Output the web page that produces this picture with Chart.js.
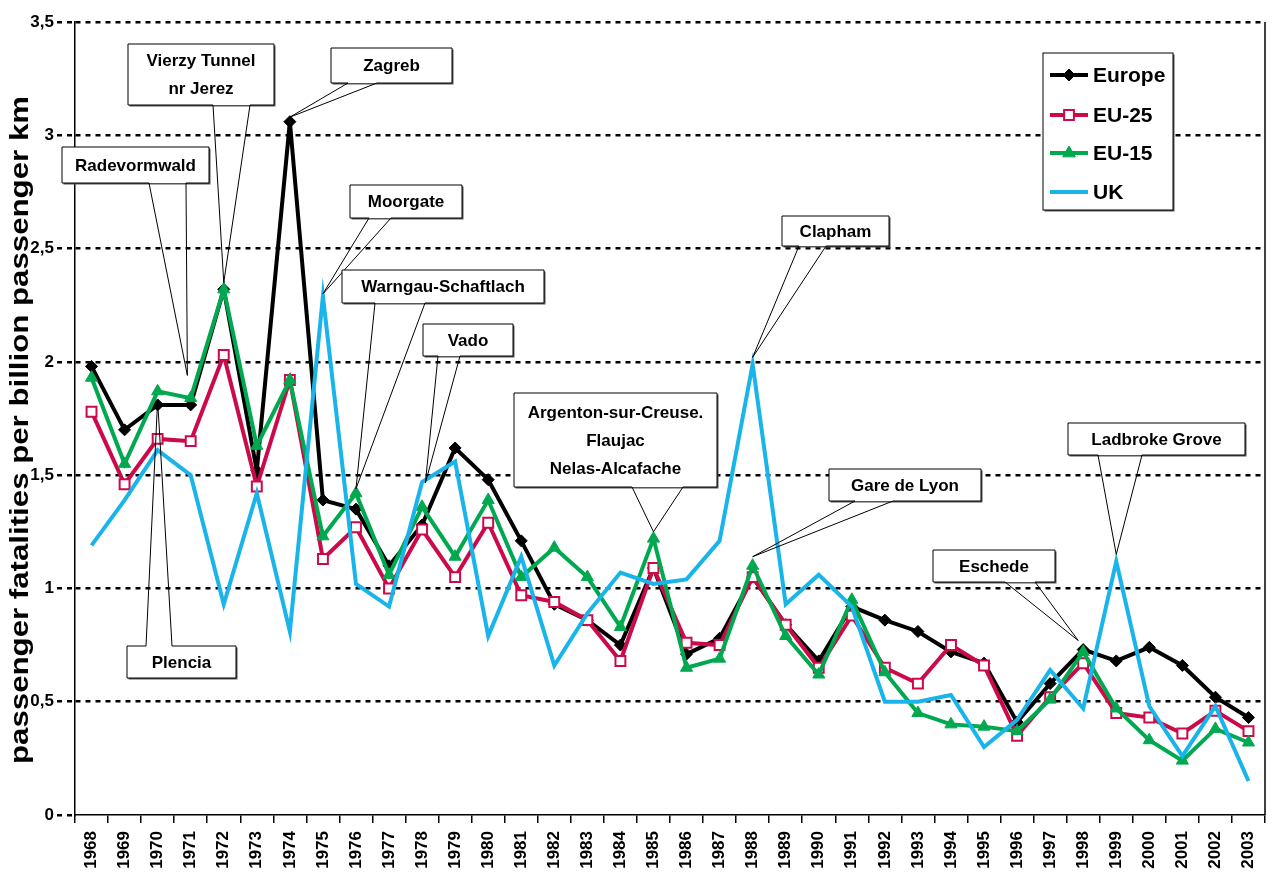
<!DOCTYPE html>
<html>
<head>
<meta charset="utf-8">
<script src="https://cdn.jsdelivr.net/npm/chart.js@4.4.0/dist/chart.umd.min.js"></script>
<style>
    html, body { margin: 0; padding: 0; background: #fff; }
</style>
</head>
<body>
<canvas id="chart" width="1274" height="882"></canvas>
<script>
// Tick labels (years)
const years = ["1968", "1969", "1970", "1971", "1972", "1973", "1974", "1975", "1976", "1977",
    "1978", "1979", "1980", "1981", "1982", "1983", "1984", "1985", "1986", "1987",
    "1988", "1989", "1990", "1991", "1992", "1993", "1994", "1995", "1996", "1997",
    "1998", "1999", "2000", "2001", "2002", "2003"];

// Series values (passenger fatalities per billion passenger km)
const europe = [1.98, 1.70, 1.81, 1.81, 2.32, 1.52, 3.06, 1.39, 1.35, 1.10,
    1.28, 1.62, 1.48, 1.21, 0.93, 0.86, 0.75, 1.09, 0.71, 0.78,
    1.05, 0.84, 0.68, 0.92, 0.86, 0.81, 0.72, 0.67, 0.41, 0.58,
    0.73, 0.68, 0.74, 0.66, 0.52, 0.43];
const eu25 = [1.78, 1.46, 1.66, 1.65, 2.03, 1.45, 1.92, 1.13, 1.27, 1.00,
    1.26, 1.05, 1.29, 0.97, 0.94, 0.86, 0.68, 1.09, 0.76, 0.75,
    1.05, 0.84, 0.65, 0.88, 0.65, 0.58, 0.75, 0.66, 0.35, 0.52,
    0.67, 0.45, 0.43, 0.36, 0.46, 0.37];
const eu15 = [1.93, 1.55, 1.87, 1.84, 2.32, 1.63, 1.92, 1.23, 1.42, 1.06,
    1.36, 1.14, 1.39, 1.05, 1.18, 1.05, 0.83, 1.22, 0.65, 0.69,
    1.10, 0.79, 0.62, 0.95, 0.63, 0.45, 0.40, 0.39, 0.37, 0.51,
    0.72, 0.47, 0.33, 0.24, 0.38, 0.32];
const uk = [1.19, 1.39, 1.61, 1.50, 0.93, 1.42, 0.81, 2.29, 1.02, 0.92,
    1.47, 1.56, 0.79, 1.14, 0.66, 0.89, 1.07, 1.02, 1.04, 1.21,
    1.99, 0.93, 1.06, 0.92, 0.50, 0.50, 0.53, 0.30, 0.42, 0.64,
    0.47, 1.12, 0.48, 0.26, 0.48, 0.15];

const seriesNames = ["Europe", "EU-25", "EU-15", "UK"];
const seriesColors = ["#000000", "#cc0a4a", "#00a84f", "#18b4ea"];

// Accident callouts: text, box (pixels), wedge base (pixels), tip (year index, value)
const callouts = [
    { text: ["Vierzy Tunnel", "nr Jerez"], box: [128, 44, 274, 105], base: [213, 250], tip: [4, 2.35] },
    { text: ["Radevormwald"], box: [62, 147, 209, 183], base: [149, 186], tip: [2.9, 1.94] },
    { text: ["Zagreb"], box: [331, 48, 452, 83], base: [348, 377], tip: [6, 3.08] },
    { text: ["Moorgate"], box: [350, 185, 462, 218], base: [369, 391], tip: [7, 2.30] },
    { text: ["Warngau-Schaftlach"], box: [342, 270, 544, 303], base: [375, 425], tip: [8, 1.44] },
    { text: ["Vado"], box: [423, 324, 513, 356], base: [438, 460], tip: [10.1, 1.465] },
    { text: ["Argenton-sur-Creuse.", "Flaujac", "Nelas-Alcafache"], box: [514, 393, 717, 487], base: [632, 683], tip: [17, 1.25] },
    { text: ["Clapham"], box: [782, 216, 889, 246], base: [799, 826], tip: [20, 2.02] },
    { text: ["Gare de Lyon"], box: [829, 469, 981, 501], base: [855, 893], tip: [20, 1.14] },
    { text: ["Eschede"], box: [933, 550, 1055, 582], base: [1005, 1035], tip: [29.85, 0.77] },
    { text: ["Ladbroke Grove"], box: [1068, 423, 1245, 455], base: [1098, 1142], tip: [31, 1.15] },
    { text: ["Plencia"], box: [127, 646, 236, 678], base: [146, 172], tip: [2, 1.83], top: true },
];

const FONT = '"Liberation Sans", Arial, sans-serif';
Chart.defaults.font.family = FONT;
Chart.defaults.color = "#000";

function shadowBox(ctx, x1, y1, x2, y2) {
    ctx.fillStyle = "#555";
    ctx.fillRect(x1 + 1.5, y1 + 1.5, x2 - x1, y2 - y1);
    ctx.fillStyle = "#fff";
    ctx.fillRect(x1, y1, x2 - x1, y2 - y1);
}

function drawMarker(ctx, style, px, py, r) {
    ctx.beginPath();
    if (style === "rectRot") {
        ctx.moveTo(px, py - r);
        ctx.lineTo(px + r, py);
        ctx.lineTo(px, py + r);
        ctx.lineTo(px - r, py);
    } else if (style === "rect") {
        const s = r * 0.7;
        ctx.rect(px - s, py - s, 2 * s, 2 * s);
    } else if (style === "triangle") {
        ctx.moveTo(px, py - r);
        ctx.lineTo(px + r * 0.9, py + r * 0.55);
        ctx.lineTo(px - r * 0.9, py + r * 0.55);
    }
    ctx.closePath();
    ctx.fill();
    ctx.stroke();
}

const overlay = {
    id: "overlay",
    afterDatasetsDraw(chart) {
        const { ctx, chartArea, scales } = chart;
        const x = scales.x, y = scales.y;

        // right frame line
        ctx.save();
        ctx.strokeStyle = "#000";
        ctx.lineWidth = 1.5;
        ctx.beginPath();
        ctx.moveTo(chartArea.right, chartArea.top);
        ctx.lineTo(chartArea.right, chartArea.bottom);
        ctx.stroke();
        ctx.restore();

        // callouts
        callouts.forEach(c => {
            const [x1, y1, x2, y2] = c.box;
            const tx = x.getPixelForValue(c.tip[0]);
            const ty = y.getPixelForValue(c.tip[1]);
            const [b1, b2] = c.base;
            ctx.save();
            shadowBox(ctx, x1, y1, x2, y2);
            ctx.strokeStyle = "#000";
            ctx.lineWidth = 1;
            ctx.beginPath();
            if (c.top) {
                ctx.moveTo(b1, y1);
                ctx.lineTo(x1, y1);
                ctx.lineTo(x1, y2);
                ctx.lineTo(x2, y2);
                ctx.lineTo(x2, y1);
                ctx.lineTo(b2, y1);
                ctx.lineTo(tx, ty);
                ctx.lineTo(b1, y1);
            } else {
                ctx.moveTo(b1, y2);
                ctx.lineTo(x1, y2);
                ctx.lineTo(x1, y1);
                ctx.lineTo(x2, y1);
                ctx.lineTo(x2, y2);
                ctx.lineTo(b2, y2);
                ctx.lineTo(tx, ty);
                ctx.lineTo(b1, y2);
            }
            ctx.stroke();
            ctx.fillStyle = "#000";
            ctx.font = "bold 17px " + FONT;
            ctx.textAlign = "center";
            ctx.textBaseline = "middle";
            const cx = (x1 + x2) / 2;
            const cy = (y1 + y2) / 2;
            const step = 28;
            c.text.forEach((t, i) => {
                ctx.fillText(t, cx, cy + 1 + (i - (c.text.length - 1) / 2) * step);
            });
            ctx.restore();
        });

        // legend
        ctx.save();
        const L = [1043, 53, 1173, 210];
        shadowBox(ctx, L[0], L[1], L[2], L[3]);
        ctx.strokeStyle = "#000";
        ctx.lineWidth = 1;
        ctx.strokeRect(L[0], L[1], L[2] - L[0], L[3] - L[1]);
        const rows = [75, 115, 153, 192];
        chart.data.datasets.forEach((ds, i) => {
            const ry = rows[i];
            ctx.strokeStyle = ds.borderColor;
            ctx.lineWidth = 4;
            ctx.beginPath();
            ctx.moveTo(1050, ry);
            ctx.lineTo(1088, ry);
            ctx.stroke();
            if (ds.pointRadius > 0) {
                ctx.fillStyle = ds.pointBackgroundColor;
                ctx.strokeStyle = ds.borderColor;
                ctx.lineWidth = ds.pointBorderWidth;
                drawMarker(ctx, ds.pointStyle, 1069, ry, ds.pointRadius);
            }
            ctx.fillStyle = "#000";
            ctx.font = "bold 21px " + FONT;
            ctx.textAlign = "left";
            ctx.textBaseline = "middle";
            ctx.fillText(ds.label, 1093, ry + 1);
        });
        ctx.restore();

        // y axis title
        ctx.save();
        ctx.translate(21, 430);
        ctx.rotate(-Math.PI / 2);
        ctx.font = "bold 26px " + FONT;
        const title = "passenger fatalities per billion passenger km";
        const w = ctx.measureText(title).width;
        ctx.scale(668 / w, 1);
        ctx.fillStyle = "#000";
        ctx.textAlign = "center";
        ctx.textBaseline = "middle";
        ctx.fillText(title, 0, 0);
        ctx.restore();
    }
};

const myChart = new Chart(document.getElementById("chart"), {
    type: "line",
    data: {
        labels: years,
        datasets: [{
            label: seriesNames[0],
            data: europe,
            borderColor: seriesColors[0],
            backgroundColor: seriesColors[0],
            pointBackgroundColor: seriesColors[0],
            borderWidth: 4,
            pointStyle: "rectRot",
            pointRadius: 6,
            pointBorderWidth: 1,
            order: 4,
        }, {
            label: seriesNames[1],
            data: eu25,
            borderColor: seriesColors[1],
            backgroundColor: "#fff",
            pointBackgroundColor: "#fff",
            borderWidth: 4,
            pointStyle: "rect",
            pointRadius: 7,
            pointBorderWidth: 2,
            order: 3,
        }, {
            label: seriesNames[2],
            data: eu15,
            borderColor: seriesColors[2],
            backgroundColor: seriesColors[2],
            pointBackgroundColor: seriesColors[2],
            borderWidth: 4,
            pointStyle: "triangle",
            pointRadius: 7,
            pointBorderWidth: 1,
            order: 2,
        }, {
            label: seriesNames[3],
            data: uk,
            borderColor: seriesColors[3],
            backgroundColor: seriesColors[3],
            borderWidth: 4,
            pointRadius: 0,
            order: 1,
        }],
    },
    options: {
        responsive: false,
        animation: false,
        devicePixelRatio: 1,
        elements: {
            line: { tension: 0 },
        },
        plugins: {
            legend: { display: false },
            tooltip: { enabled: false },
        },
        layout: {
            padding: { top: 22, right: 7, left: 0, bottom: 0 },
        },
        scales: {
            x: {
                type: "category",
                offset: true,
                afterFit: (scale) => {
                    scale.height = 67;
                    scale.paddingLeft = 0;
                    scale.paddingRight = 0;
                },
                grid: {
                    offset: true,
                    drawOnChartArea: false,
                    tickLength: 8,
                    color: "#000",
                    lineWidth: 1.5,
                },
                border: { color: "#000", width: 1.5 },
                ticks: {
                    autoSkip: false,
                    maxRotation: 90,
                    minRotation: 90,
                    padding: 8,
                    color: "#000",
                    font: { weight: "bold", size: 17 },
                },
            },
            y: {
                min: 0,
                max: 3.5,
                afterFit: (scale) => { scale.width = 75; },
                grid: {
                    color: (c) => (c.tick && c.tick.value === 0 ? "rgba(0,0,0,0)" : "#000"),
                    lineWidth: 2.5,
                    tickLength: 18,
                    tickColor: "#000",
                    tickWidth: 2.5,
                    tickBorderDash: [5, 5],
                },
                border: { color: "#000", width: 1.5, dash: [5, 5] },
                ticks: {
                    stepSize: 0.5,
                    padding: 3,
                    color: "#000",
                    font: { weight: "bold", size: 17 },
                    callback: (v) => String(v).replace(".", ","),
                },
            },
        },
    },
    plugins: [overlay],
});
</script>
</body>
</html>
